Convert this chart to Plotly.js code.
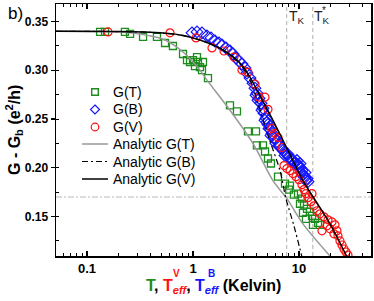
<!DOCTYPE html>
<html><head><meta charset="utf-8">
<script src="https://cdn.plot.ly/plotly-3.0.1.min.js"></script>
<style>html,body{margin:0;padding:0;background:#fff}#c{width:374px;height:301px}</style>
</head><body><div id="c"></div>
<script>
// ---- data ----
const xT = [0.133,0.148,0.228,0.255,0.338,0.457,0.545,0.647,0.805,0.878,0.937,1.0,1.091,1.115,1.243,1.044,1.164,1.216,1.385,2.234,2.60,3.30,3.93,4.01,4.57,4.78,5.10,5.44,6.34,7.38,8.22,8.05,8.97,9.79,10.67,10.22,11.15,11.90,10.91,12.70,13.27,11.64,14.16,15.11,15.78,13.55];
const yT = [0.3394,0.3394,0.3394,0.3373,0.3342,0.3342,0.3280,0.3249,0.3167,0.3105,0.3085,0.3105,0.3136,0.3085,0.3085,0.3043,0.3033,0.3002,0.2920,0.2641,0.2579,0.2373,0.2373,0.2229,0.2229,0.2167,0.2095,0.2044,0.1910,0.1838,0.1817,0.1775,0.1724,0.1734,0.1683,0.1631,0.1621,0.1579,0.1538,0.1549,0.1507,0.1476,0.1476,0.1435,0.1414,0.1414];

const xB = [0.979,1.091,1.216,1.355,1.479,1.612,1.759,1.877,2.048,2.234,2.384,2.544,2.716,2.898,3.094,3.230,3.449,3.681,3.845,4.015,4.195,4.38,4.573,4.675,4.883,5.10,5.326,5.56,5.94,6.20,6.62,7.06,7.54,8.05,8.59,9.17,9.79,10.22,10.67,10.91,11.39,11.90,12.16,9.57,10.22,11.39,
            3.93,4.10,4.48,4.78,4.99,5.21,5.44,5.81,6.07,6.48,6.92,7.38,7.87,8.41,8.97,10.0,10.44,11.15,11.64];
const yB = [0.3384,0.3394,0.3384,0.3353,0.3332,0.3301,0.3280,0.3260,0.3229,0.3198,0.3167,0.3126,0.3095,0.3064,0.3023,0.2971,0.2920,0.2868,0.2817,0.2765,0.2713,0.2662,0.2610,0.2559,0.2507,0.2445,0.2394,0.2353,0.2301,0.2270,0.2219,0.2177,0.2146,0.2105,0.2074,0.2054,0.2033,0.2002,0.1971,0.1930,0.1899,0.1889,0.1858,0.2074,0.2043,0.1951,
            0.2744,0.2693,0.2590,0.2487,0.2466,0.2404,0.2332,0.2311,0.2250,0.2229,0.2198,0.2126,0.2136,0.2095,0.2044,0.2013,0.1951,0.1909,0.1868];

const xV = [0.158,0.607,1.067,1.511,1.961,2.437,2.898,3.30,3.845,4.195,4.78,5.10,5.56,5.94,6.34,6.92,7.22,7.70,8.22,8.78,9.37,10.0,10.67,11.15,11.64,13.27,12.16,12.98,13.85,14.79,15.78,17.21,18.78,20.48,21.86,16.48,22.82,23.33,24.37,25.45,26.58,27.75,28.98,18.37,19.60,21.38];
const yV = [0.3394,0.3384,0.3332,0.3229,0.3198,0.3136,0.3002,0.2981,0.2858,0.2724,0.2724,0.2600,0.2404,0.2353,0.2311,0.2208,0.2023,0.1992,0.1971,0.1940,0.1909,0.1878,0.1827,0.1776,0.1734,0.1734,0.1693,0.1652,0.1610,0.1559,0.1528,0.1497,0.1466,0.1445,0.1415,0.1353,0.1353,0.1302,0.1250,0.1208,0.1167,0.1136,0.1105,0.1405,0.1374,0.1322];

const xAnT = [0.051,0.133,0.255,0.393,0.544,0.805,1.164,1.355,2.234,3.68,5.68,7.70,10.9,19.6];
const yAnT = [0.340,0.3398,0.3384,0.3353,0.3311,0.3188,0.3002,0.2899,0.2590,0.2250,0.1868,0.1683,0.1425,0.1095];

const xAnB = [0.051,0.205,0.393,0.754,1.164,1.918,2.776,3.45,4.10,5.10,6.62,7.54,8.97,10.67];
const yAnB = [0.340,0.3397,0.3389,0.3363,0.3311,0.3208,0.3064,0.2899,0.2662,0.2332,0.1971,0.1683,0.1404,0.1085];

const xAnV = [0.051,0.205,0.393,0.754,1.164,1.918,2.776,3.449,4.015,5.68,7.06,8.78,10.91,13.55,19.6,28.4];
const yAnV = [0.340,0.3397,0.3389,0.3363,0.3311,0.3208,0.3074,0.2930,0.2796,0.2487,0.2281,0.2074,0.1869,0.1703,0.1425,0.1085];

const TK = 7.66, TKstar = 13.5, Ghalf = 0.17;

const xTickVals = [0.1, 1, 10];
const xTickText = ['0.1', '1', '10'];
const xMinorVals = [0.06,0.07,0.08,0.09,0.2,0.3,0.4,0.5,0.6,0.7,0.8,0.9,2,3,4,5,6,7,8,9,20,30,40];

const legendNames = ['G(T)','G(B)','G(V)','Analytic G(T)','Analytic G(B)','Analytic G(V)'];

// ---- styling ----
const FONT = 'Liberation Sans, Arial, sans-serif';
const GREEN = '#1c8c1c', BLUE = '#1515ff', RED = '#ff1010', GRAY = '#999999';
const L = 56, R = 371, T = 4, B = 256;
const px2x = p => (p - L) / (R - L);
const py2y = p => (B - p) / (B - T);

const traces = [
  {x: xT, y: yT, mode: 'markers', type: 'scatter', name: legendNames[0], showlegend: false,
   marker: {symbol: 'square-open', size: 7, color: GREEN, line: {width: 1.3, color: GREEN}}},
  {x: xB, y: yB, mode: 'markers', type: 'scatter', name: legendNames[1], showlegend: false,
   marker: {symbol: 'diamond-open', size: 9, color: BLUE, line: {width: 1.2, color: BLUE}}},
  {x: xV, y: yV, mode: 'markers', type: 'scatter', name: legendNames[2], showlegend: false,
   marker: {symbol: 'circle-open', size: 8, color: RED, line: {width: 1.2, color: RED}}},
  {x: xAnT, y: yAnT, mode: 'lines', type: 'scatter', name: legendNames[3], showlegend: false,
   line: {color: GRAY, width: 1.5, shape: 'spline', smoothing: 0.8}},
  {x: xAnB, y: yAnB, mode: 'lines', type: 'scatter', name: legendNames[4], showlegend: false,
   line: {color: '#000', width: 1.2, dash: '6px,3px,2px,3px', shape: 'spline', smoothing: 0.8}},
  {x: xAnV, y: yAnV, mode: 'lines', type: 'scatter', name: legendNames[5], showlegend: false, yaxis: 'y2',
   line: {color: '#000', width: 1.5, shape: 'spline', smoothing: 0.8}}
];

const shapes = [
  {type: 'line', xref: 'paper', yref: 'y', x0: 0, x1: 1, y0: Ghalf, y1: Ghalf, layer: 'below',
   line: {color: '#b8b8b8', width: 1, dash: '6px,2px,2px,2px'}},
  {type: 'line', xref: 'x', yref: 'paper', x0: TK, x1: TK, y0: 0, y1: 1, layer: 'below',
   line: {color: '#b0b0b0', width: 1, dash: '4px,3px'}},
  {type: 'line', xref: 'x', yref: 'paper', x0: TKstar, x1: TKstar, y0: 0, y1: 1, layer: 'below',
   line: {color: '#b0b0b0', width: 1, dash: '4px,3px'}}
];
const annotations = [];

// manual legend
const rows = [92, 109.5, 127, 144, 161.5, 179];
const symX = 95;
function pix(type, cx, cy, extra) {
  return Object.assign({type: type, xref: 'paper', yref: 'paper', xsizemode: 'pixel', ysizemode: 'pixel',
    xanchor: px2x(cx), yanchor: py2y(cy)}, extra);
}
shapes.push(pix('rect', symX, rows[0], {x0: -3.3, x1: 3.3, y0: -3.3, y1: 3.3, line: {color: GREEN, width: 1.4}}));
shapes.push(pix('path', symX, rows[1], {path: 'M0,4.5L4.5,0L0,-4.5L-4.5,0Z', line: {color: BLUE, width: 1.2}}));
shapes.push(pix('circle', symX, rows[2], {x0: -3.8, x1: 3.8, y0: -3.8, y1: 3.8, line: {color: RED, width: 1.2}}));
const lineStyles = [{color: GRAY, width: 1.5}, {color: '#000', width: 1.2, dash: '6px,3px,2px,3px'}, {color: '#000', width: 1.5}];
for (let i = 0; i < 3; i++) {
  shapes.push({type: 'line', xref: 'paper', yref: 'paper', x0: px2x(82), x1: px2x(108),
    y0: py2y(rows[3 + i]), y1: py2y(rows[3 + i]), line: lineStyles[i]});
}
legendNames.forEach((n, i) => annotations.push({
  text: n, xref: 'paper', yref: 'paper', x: px2x(111), y: py2y(rows[i]), xanchor: 'left', yanchor: 'middle',
  showarrow: false, font: {family: FONT, size: 14, color: '#000'}
}));

// axis titles
annotations.push({
  text: '<b>G - G<sub>b</sub> (e<sup>2</sup>/h)</b>', xref: 'paper', yref: 'paper', x: 0, xshift: -(L - 14), y: 0.5,
  xanchor: 'center', yanchor: 'middle', textangle: -90, showarrow: false, font: {family: FONT, size: 16, color: '#000'}
});
annotations.push({
  text: '<b><span style="color:' + GREEN + '">T</span>, <span style="color:' + RED + '">T<sub><i>eff</i></sub></span>, <span style="color:' + BLUE + '">T<sub><i>eff</i></sub></span> (Kelvin)</b>',
  xref: 'paper', yref: 'paper', x: 0.5, y: 0, yshift: -30, xanchor: 'center', yanchor: 'middle',
  showarrow: false, font: {family: FONT, size: 16, color: '#000'}
});
annotations.push({text: '<b>V</b>', xref: 'paper', yref: 'paper', x: px2x(176), y: 0, yshift: -(273.5 - B),
  xanchor: 'center', yanchor: 'middle', showarrow: false, font: {family: FONT, size: 10, color: RED}});
annotations.push({text: '<b>B</b>', xref: 'paper', yref: 'paper', x: px2x(211.5), y: 0, yshift: -(273.5 - B),
  xanchor: 'center', yanchor: 'middle', showarrow: false, font: {family: FONT, size: 10, color: BLUE}});

// T_K labels
annotations.push({text: 'T<sub>K</sub>', xref: 'paper', yref: 'paper', x: px2x(287), y: py2y(17), xanchor: 'left', yanchor: 'middle',
  showarrow: false, font: {family: FONT, size: 14, color: '#222'}});
annotations.push({text: 'T<sub>K</sub>', xref: 'paper', yref: 'paper', x: px2x(312), y: py2y(17), xanchor: 'left', yanchor: 'middle',
  showarrow: false, font: {family: FONT, size: 14, color: '#222'}});
annotations.push({text: '*', xref: 'paper', yref: 'paper', x: px2x(323.5), y: py2y(10), xanchor: 'center', yanchor: 'middle',
  showarrow: false, font: {family: FONT, size: 10, color: '#222'}});
// panel label
annotations.push({text: 'b)', xref: 'paper', yref: 'paper', x: px2x(6), y: 1, yshift: 2, xanchor: 'left', yanchor: 'top',
  showarrow: false, font: {family: FONT, size: 17, color: '#000'}});

const tickFont = {family: FONT, size: 13, color: '#000', weight: 'bold'};
const layout = {
  width: 374, height: 301, margin: {l: L, r: 374 - R, t: T, b: 301 - B}, paper_bgcolor: '#fff', plot_bgcolor: '#fff',
  showlegend: false,
  xaxis: {type: 'log', range: [Math.log10(0.051), Math.log10(47.8)], showline: true, linecolor: '#000', linewidth: 1.5,
    mirror: 'ticks', ticks: 'inside', ticklen: 5, tickwidth: 1.2, tickcolor: '#000', tickmode: 'array',
    tickvals: xTickVals, ticktext: xTickText, tickfont: tickFont, showgrid: false, zeroline: false,
    minor: {tickmode: 'array', tickvals: xMinorVals, ticks: 'inside', ticklen: 3, tickwidth: 1, tickcolor: '#000', showgrid: false}},
  yaxis: {range: [0.1095, 0.368], tick0: 0.15, dtick: 0.05, tickformat: '.2f', showline: true, linecolor: '#000', linewidth: 1.5,
    ticks: 'outside', ticklen: 4, tickwidth: 1.2, tickcolor: '#000', tickfont: {family: FONT, size: 12, color: '#000', weight: 'bold'},
    showgrid: false, zeroline: false,
    minor: {dtick: 0.025, ticks: 'inside', ticklen: 3, tickwidth: 1, tickcolor: '#000', showgrid: false}},
  yaxis2: {overlaying: 'y', side: 'right', matches: 'y', tick0: 0.15, dtick: 0.05, showline: true, linecolor: '#000', linewidth: 1.5,
    ticks: 'inside', ticklen: 5, tickwidth: 1.2, tickcolor: '#000', showticklabels: false, showgrid: false, zeroline: false,
    minor: {dtick: 0.025, ticks: 'inside', ticklen: 4, tickwidth: 1, tickcolor: '#000', showgrid: false}},
  shapes: shapes, annotations: annotations
};
Plotly.newPlot('c', traces, layout, {staticPlot: true, displayModeBar: false});
</script></body></html>
